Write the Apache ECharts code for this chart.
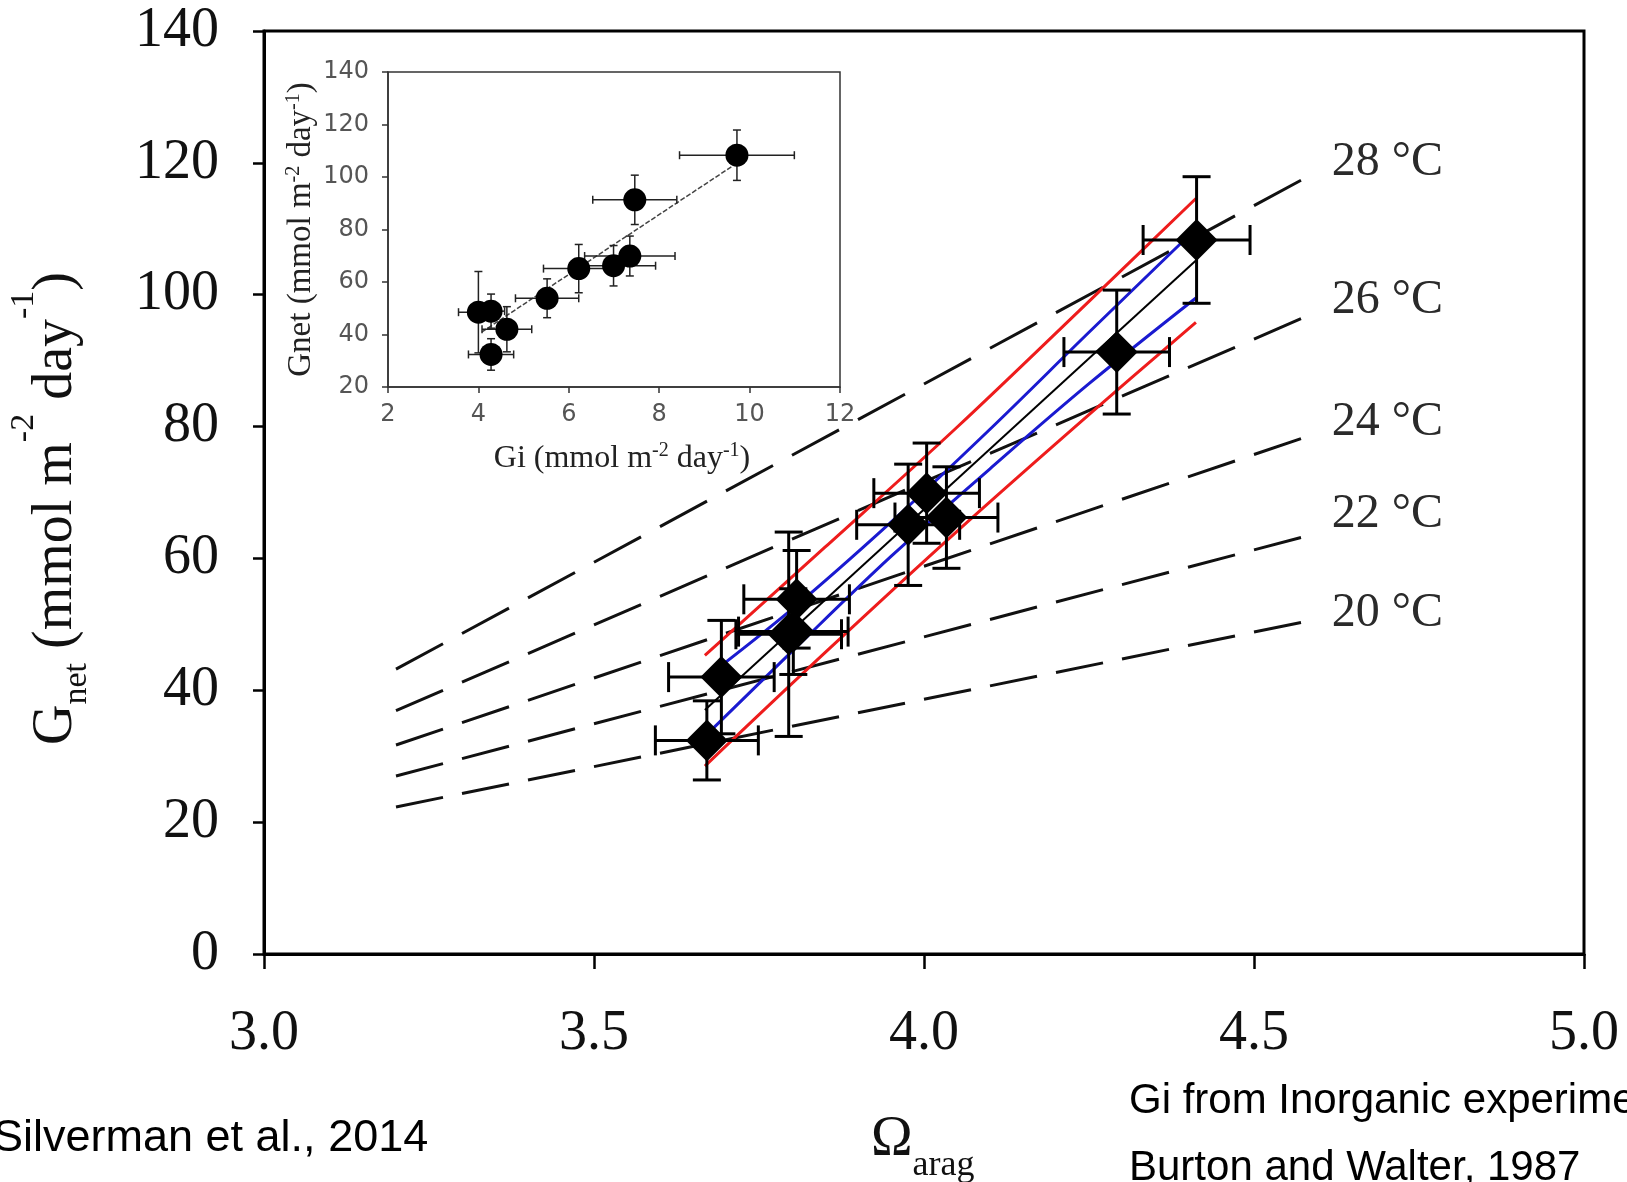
<!DOCTYPE html>
<html>
<head>
<meta charset="utf-8">
<title>Gnet vs Ωarag</title>
<script src="https://cdn.jsdelivr.net/npm/echarts@6/dist/echarts.min.js"></script>
<style>
  html, body { margin: 0; padding: 0; background: #fff; }
  #chart { width: 1627px; height: 1182px; }
</style>
</head>
<body>
<div id="chart"></div>
<script>
const SERIF = '"Liberation Serif", "Times New Roman", serif';
const SANS = '"Liberation Sans", Arial, sans-serif';
const INSET_FONT = '"DejaVu Sans", Verdana, sans-serif';

// Coral samples: aragonite saturation, net calcification and their errors
const omega    = [3.671, 3.693, 3.795, 3.802, 3.807, 3.976, 4.034, 4.004, 4.292, 4.413];
const omegaErr = [0.078, 0.080, 0.080, 0.083, 0.080, 0.078, 0.078, 0.080, 0.080, 0.081];
const gnet     = [32.4, 42.0, 48.5, 48.9, 53.8, 65.1, 66.2, 69.9, 91.3, 108.3];
const gnetErr  = [6.0, 8.6, 15.5, 6.5, 7.4, 9.2, 7.7, 7.6, 9.4, 9.6];
// Inorganic growth rate for the same samples
const gi       = [4.28, 4.63, 4.00, 4.28, 5.52, 6.22, 6.99, 7.35, 7.46, 9.72];
const giErr    = [0.50, 0.55, 0.44, 0.30, 0.70, 0.78, 0.93, 1.00, 0.93, 1.27];

// Isotherms (dashed lines) between two Ω values
const isoTemps   = ['28 °C', '26 °C', '24 °C', '22 °C', '20 °C'];
const isoOmega   = [3.2, 4.572];
const isoStart   = [43.2, 36.9, 31.7, 27.0, 22.3];
const isoEnd     = [117.4, 96.4, 78.2, 63.2, 50.3];
const isoLabelOmega = 4.617;
const isoLabelGnet  = [120.0, 99.2, 80.6, 66.7, 51.6];

// Regression fit with confidence (blue) and prediction (red) bands
const fitOmega  = [3.668, 4.412];
const fitGnet   = [37.0, 105.2];
const confOmega = [3.668, 3.80, 3.95, 4.10, 4.25, 4.412];
const confUpper = [41.8, 52.3, 65.5, 79.6, 94.3, 110.0];
const confLower = [33.0, 45.9, 60.3, 73.6, 86.5, 99.5];
const predOmega = [3.668, 3.85, 4.05, 4.25, 4.412];
const predUpper = [45.3, 61.7, 79.9, 99.0, 114.6];
const predLower = [28.5, 45.7, 64.1, 81.8, 95.8];

// Inset: Gnet against Gi with its linear fit
const insetFitGi   = [4.08, 9.65];
const insetFitGnet = [41.0, 104.5];

// Axis ranges [min, max, interval]
const omegaAxis = [3, 5, 0.5];
const gnetAxis  = [0, 140, 20];
const giAxis    = [2, 12, 2];
const insetGnetAxis = [20, 140, 20];

const MAIN  = { left: 264, top: 31, width: 1320, height: 923 };
const INSET = { left: 388, top: 72, width: 452, height: 315 };

const zip = (xs, ys) => xs.map((x, i) => [x, ys[i]]);

function errorBarRenderer(capH, capV, lineWidth, color) {
  return function (params, api) {
    const x = api.value(0), y = api.value(1), ex = api.value(2), ey = api.value(3);
    const l = api.coord([x - ex, y]), r = api.coord([x + ex, y]);
    const t = api.coord([x, y + ey]), b = api.coord([x, y - ey]);
    const style = { stroke: color, lineWidth: lineWidth };
    const seg = (x1, y1, x2, y2) => ({ type: 'line', shape: { x1, y1, x2, y2 }, style });
    return {
      type: 'group',
      children: [
        seg(l[0], l[1], r[0], r[1]),
        seg(l[0], l[1] - capH / 2, l[0], l[1] + capH / 2),
        seg(r[0], r[1] - capH / 2, r[0], r[1] + capH / 2),
        seg(t[0], t[1], b[0], b[1]),
        seg(t[0] - capV / 2, t[1], t[0] + capV / 2, t[1]),
        seg(b[0] - capV / 2, b[1], b[0] + capV / 2, b[1])
      ]
    };
  };
}

// Text made of pieces with super/subscripts, laid out left to right
const measureCtx = document.createElement('canvas').getContext('2d');
function measure(text, size, family) {
  measureCtx.font = size + 'px ' + family;
  return measureCtx.measureText(text).width;
}
function composeText(pieces, family, color, mid) {
  let x = 0;
  const children = [];
  pieces.forEach(([text, size, shift]) => {
    children.push({
      type: 'text', x: x, y: shift - mid * size,
      style: {
        text: text, font: size + 'px ' + family, fill: color,
        textAlign: 'left', textVerticalAlign: 'middle', align: 'left', verticalAlign: 'middle'
      }
    });
    x += measure(text, size, family);
  });
  return { children, width: x };
}

const SERIF_MID = 0.33;
const SANS_MID = 0.35;

const yTitle = composeText([
  ['G', 56, 0], ['net', 34, 13], [' (mmol m', 56, 0], ['-2', 34, -40],
  [' day', 56, 0], ['-1', 34, -40], [')', 56, 0]
], SERIF, '#111', SERIF_MID);

const xTitle = composeText([['Ω', 56, 0], ['arag', 36, 18]], SERIF, '#111', SERIF_MID);

const insetYTitle = composeText([
  ['Gnet (mmol m', 33, 0], ['-2', 20, -12], [' day', 33, 0], ['-1', 20, -12], [')', 33, 0]
], SERIF, '#222', SERIF_MID);

const insetXTitle = composeText([
  ['Gi (mmol m', 32, 0], ['-2', 20, -12], [' day', 32, 0], ['-1', 20, -12], [')', 32, 0]
], SERIF, '#222', SERIF_MID);

// Dash pattern stretched by slope so the dashes line up along Ω
const pxPerOmega = MAIN.width / (omegaAxis[1] - omegaAxis[0]);
const pxPerGnet = MAIN.height / (gnetAxis[1] - gnetAxis[0]);
const isoSeries = isoTemps.map((name, i) => {
  const slope = (isoEnd[i] - isoStart[i]) / (isoOmega[1] - isoOmega[0]) * pxPerGnet / pxPerOmega;
  const k = Math.sqrt(1 + slope * slope);
  return {
    type: 'line', name: name, xAxisIndex: 0, yAxisIndex: 0,
    data: [[isoOmega[0], isoStart[i]], [isoOmega[1], isoEnd[i]]],
    symbol: 'none', silent: true, z: 2,
    lineStyle: { color: '#111', width: 3, type: [47 * k, 19 * k] }
  };
});

function bandLine(xs, ys, color, width, z) {
  return {
    type: 'line', xAxisIndex: 0, yAxisIndex: 0, data: zip(xs, ys),
    symbol: 'none', smooth: 0.35, silent: true, z: z,
    lineStyle: { color: color, width: width }
  };
}

const axisCommon = (color, width) => ({
  axisLine: { show: true, onZero: false, lineStyle: { color, width } },
  splitLine: { show: false }
});

const option = {
  animation: false,
  backgroundColor: '#fff',
  tooltip: { show: false },
  grid: [
    Object.assign({ show: true, borderColor: '#000', borderWidth: 3, containLabel: false, outerBoundsMode: 'none' }, MAIN),
    Object.assign({ show: true, borderColor: '#333', borderWidth: 1.5, containLabel: false, outerBoundsMode: 'none' }, INSET)
  ],
  xAxis: [
    Object.assign({
      type: 'value', gridIndex: 0, min: omegaAxis[0], max: omegaAxis[1], interval: omegaAxis[2],
      axisTick: { show: true, inside: false, length: 15, lineStyle: { color: '#000', width: 2.5 } },
      axisLabel: { margin: 52, fontFamily: SERIF, fontSize: 56, color: '#111', formatter: v => v.toFixed(1) }
    }, axisCommon('#000', 3)),
    Object.assign({
      type: 'value', gridIndex: 1, min: giAxis[0], max: giAxis[1], interval: giAxis[2],
      axisTick: { show: true, inside: false, length: 6, lineStyle: { color: '#333', width: 1.5 } },
      axisLabel: { margin: 16, fontFamily: INSET_FONT, fontSize: 24, color: '#555' }
    }, axisCommon('#333', 1.5))
  ],
  yAxis: [
    Object.assign({
      type: 'value', gridIndex: 0, min: gnetAxis[0], max: gnetAxis[1], interval: gnetAxis[2],
      axisTick: { show: true, inside: false, length: 11, lineStyle: { color: '#000', width: 2.5 } },
      axisLabel: { margin: 45, fontFamily: SERIF, fontSize: 56, color: '#111' }
    }, axisCommon('#000', 3)),
    Object.assign({
      type: 'value', gridIndex: 1, min: insetGnetAxis[0], max: insetGnetAxis[1], interval: insetGnetAxis[2],
      axisTick: { show: true, inside: false, length: 6, lineStyle: { color: '#333', width: 1.5 } },
      axisLabel: { margin: 19, fontFamily: INSET_FONT, fontSize: 24, color: '#555' }
    }, axisCommon('#333', 1.5))
  ],
  series: [
    ...isoSeries,
    {
      type: 'scatter', name: 'isotherm labels', xAxisIndex: 0, yAxisIndex: 0,
      data: isoTemps.map((t, i) => ({ name: t, value: [isoLabelOmega, isoLabelGnet[i]] })),
      symbolSize: 1, itemStyle: { color: 'rgba(0,0,0,0)', opacity: 1 }, silent: true, z: 3,
      label: {
        show: true, position: 'right', distance: 0, formatter: '{b}',
        fontFamily: SERIF, fontSize: 48, color: '#2a2a2a', opacity: 1
      }
    },
    bandLine(predOmega, predUpper, '#ee1c1c', 3, 4),
    bandLine(predOmega, predLower, '#ee1c1c', 3, 4),
    bandLine(confOmega, confUpper, '#1a1ad0', 3, 4),
    bandLine(confOmega, confLower, '#1a1ad0', 3, 4),
    {
      type: 'line', name: 'fit', xAxisIndex: 0, yAxisIndex: 0, data: zip(fitOmega, fitGnet),
      symbol: 'none', silent: true, z: 5, lineStyle: { color: '#000', width: 2 }
    },
    {
      type: 'custom', name: 'Ω error bars', xAxisIndex: 0, yAxisIndex: 0, z: 8, silent: true,
      renderItem: errorBarRenderer(30, 28, 3, '#000'),
      encode: { x: 0, y: 1 },
      data: omega.map((x, i) => [x, gnet[i], omegaErr[i], gnetErr[i]])
    },
    {
      type: 'scatter', name: 'samples', xAxisIndex: 0, yAxisIndex: 0, z: 10, silent: true,
      symbol: 'diamond', symbolSize: [42, 42], itemStyle: { color: '#000', opacity: 1 },
      data: zip(omega, gnet)
    },
    {
      type: 'line', name: 'inset fit', xAxisIndex: 1, yAxisIndex: 1, data: zip(insetFitGi, insetFitGnet),
      symbol: 'none', silent: true, z: 12, lineStyle: { color: '#444', width: 1.5, type: [5, 2] }
    },
    {
      type: 'custom', name: 'Gi error bars', xAxisIndex: 1, yAxisIndex: 1, z: 13, silent: true,
      renderItem: errorBarRenderer(8, 8, 1.5, '#222'),
      encode: { x: 0, y: 1 },
      data: gi.map((x, i) => [x, gnet[i], giErr[i], gnetErr[i]])
    },
    {
      type: 'scatter', name: 'inset samples', xAxisIndex: 1, yAxisIndex: 1, z: 14, silent: true,
      symbol: 'circle', symbolSize: 23, itemStyle: { color: '#000', opacity: 1 },
      data: zip(gi, gnet)
    }
  ],
  graphic: [
    { type: 'group', x: 75, y: 745, rotation: Math.PI / 2, children: yTitle.children, silent: true },
    { type: 'group', x: 871, y: 1159, children: xTitle.children, silent: true },
    { type: 'group', x: 312, y: 229.5 + insetYTitle.width / 2, rotation: Math.PI / 2, children: insetYTitle.children, silent: true },
    { type: 'group', x: 622 - insetXTitle.width / 2, y: 469, children: insetXTitle.children, silent: true },
    {
      type: 'text', x: -7, y: 1154 - SANS_MID * 45, silent: true,
      style: { text: 'Silverman et al., 2014', font: '45px ' + SANS, fill: '#000',
        textAlign: 'left', textVerticalAlign: 'middle', align: 'left', verticalAlign: 'middle' }
    },
    {
      type: 'text', x: 1129, y: 1116 - SANS_MID * 42, silent: true,
      style: { text: 'Gi from Inorganic experiments', font: '42px ' + SANS, fill: '#000',
        textAlign: 'left', textVerticalAlign: 'middle', align: 'left', verticalAlign: 'middle' }
    },
    {
      type: 'text', x: 1129, y: 1183 - SANS_MID * 42, silent: true,
      style: { text: 'Burton and Walter, 1987', font: '42px ' + SANS, fill: '#000',
        textAlign: 'left', textVerticalAlign: 'middle', align: 'left', verticalAlign: 'middle' }
    }
  ]
};

const chart = echarts.init(document.getElementById('chart'), null, { renderer: 'canvas', width: 1627, height: 1182 });
chart.setOption(option);
</script>
</body>
</html>
